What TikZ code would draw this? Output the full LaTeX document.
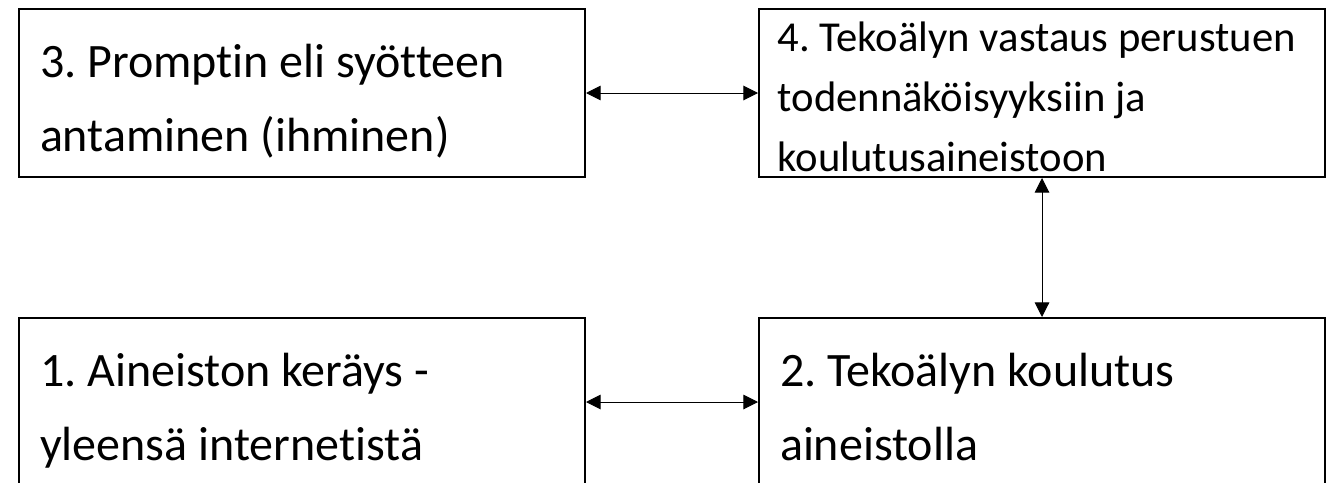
\documentclass[tikz,border=0pt]{standalone}
\usepackage{fontspec}
\setmainfont{Carlito}[Ligatures=NoCommon]
\frenchspacing
\usetikzlibrary{positioning,arrows.meta}

\begin{document}
\begin{tikzpicture}[x=0.75pt,y=-0.75pt,
   stepbox/.style={draw,line width=1.5pt,anchor=north west,
      minimum width=424.5pt,minimum height=126pt,
      inner ysep=0pt,align=flush left},
   loosebox/.style={stepbox,inner xsep=15.75pt,text width=393pt,
      font=\fontsize{36pt}{55.5pt}\selectfont,
      execute at begin node={\rule{0pt}{51pt}},
      execute at end node={\rule[-19.5pt]{0pt}{0pt}}},
   densebox/.style={stepbox,inner xsep=14pt,text width=396.5pt,
      font=\fontsize{32pt}{45pt}\selectfont,
      execute at begin node={\rule{0pt}{32pt}},
      execute at end node={\rule[-4pt]{0pt}{0pt}}},
   link/.style={line width=0.75pt,
      {Triangle[length=11pt,width=11pt]}-{Triangle[length=11pt,width=11pt]}}
]
   \useasboundingbox (0,0) rectangle (1330,482);
   \clip (0,0) rectangle (1330,482);

   % top row
   \node[loosebox] (prompt) at (18,8) {3. Promptin eli syötteen\\antaminen (ihminen)};
   \node[densebox] (answer) at (758,8) {\mbox{4. Tekoälyn vastaus perustuen}\\todennäköisyyksiin ja\\koulutusaineistoon};

   % bottom row
   \node[loosebox] (collect) at (18,317) {1. Aineiston keräys -\\yleensä internetistä};
   \node[loosebox] (train) at (758,317) {2. Tekoälyn koulutus\\aineistolla};

   \draw[link] (prompt) -- (answer);
   \draw[link] (collect) -- (train);
   \draw[link] (answer) -- (train);
\end{tikzpicture}
\end{document}
